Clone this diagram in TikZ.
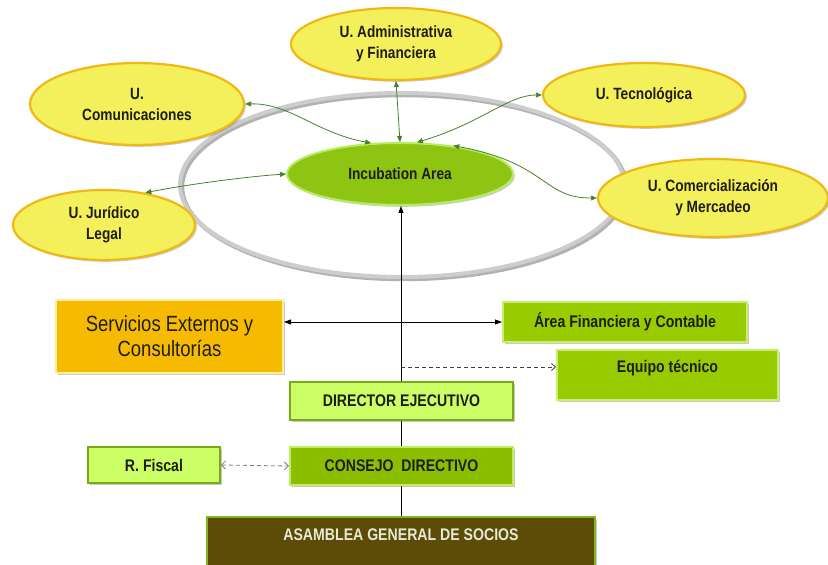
\documentclass[tikz,border=0pt]{standalone}
\usepackage{fontspec}
\setmainfont{Liberation Sans}[FakeStretch=0.84]
\usetikzlibrary{arrows.meta,shadows,shapes.geometric}

\definecolor{unitfill}{RGB}{244,240,92}
\definecolor{unitedge}{RGB}{240,184,20}
\definecolor{incfill}{RGB}{142,196,18}
\definecolor{incedge}{RGB}{184,236,96}
\definecolor{ringgray}{RGB}{205,205,205}
\definecolor{linkgreen}{RGB}{70,130,40}
\definecolor{servfill}{RGB}{246,186,0}
\definecolor{servedge}{RGB}{250,240,150}
\definecolor{leaffill}{RGB}{153,204,0}
\definecolor{leafedge}{RGB}{200,240,110}
\definecolor{palefill}{RGB}{204,255,102}
\definecolor{paleedge}{RGB}{120,170,20}
\definecolor{boardfill}{RGB}{140,190,0}
\definecolor{boardedge}{RGB}{190,236,100}
\definecolor{assemfill}{RGB}{92,76,8}
\definecolor{assemedge}{RGB}{130,180,30}
\definecolor{assemtext}{RGB}{232,232,214}
\definecolor{inktext}{RGB}{30,30,20}

\newcommand\unitfont{\bfseries\fontsize{16.3}{21}\selectfont}
\newcommand\boxfont{\bfseries\fontsize{16.8}{20}\selectfont}
\newcommand\servfont{\fontsize{22}{25}\selectfont}

\tikzset{
  softshadow/.style={drop shadow={shadow xshift=1.8pt,shadow yshift=-1.8pt,opacity=.35,fill=black!60}},
  unit/.style={ellipse,draw=unitedge,line width=2.2pt,fill=unitfill,inner sep=0pt,
    align=center,font=\unitfont,text=inktext,softshadow},
  orgbox/.style={rectangle,line width=2pt,inner sep=0pt,align=center,font=\boxfont,text=inktext,softshadow},
  link/.style={linkgreen,line width=0.8pt,{Triangle[length=6pt,width=5pt]}-{Triangle[length=6pt,width=5pt]}},
  solidarrow/.style={black,line width=0.8pt},
  dasharrow/.style={dashed,dash pattern=on 4pt off 3pt,line width=0.8pt}
}

\begin{document}
\begin{tikzpicture}[x=1pt,y=1pt]
\useasboundingbox (0,0) rectangle (828,565);

% outer ring around the incubation area
\draw[gray!60,line width=4.5pt] (404,378) ellipse [x radius=222,y radius=92];
\draw[ringgray,line width=4pt] (402,380) ellipse [x radius=222,y radius=92];

% trunk of the organisation, drawn under the boxes
\coordinate (trunk) at (401,48);
\coordinate (tap) at (401,198);

% central area and units
\node[ellipse,draw=incedge,line width=2pt,fill=incfill,minimum width=226pt,minimum height=62pt,
  inner sep=0pt,font=\unitfont,text=inktext,softshadow] (incub) at (400,391) {Incubation Area};
\node[unit,minimum width=210pt,minimum height=72pt] (admin) at (396,521)
  {U. Administrativa\\y Financiera};
\node[unit,minimum width=214pt,minimum height=82pt] (comu) at (137,461)
  {U.\\Comunicaciones};
\node[unit,minimum width=182pt,minimum height=70pt] (juri) at (104,340)
  {U. Jurídico\\Legal};
\node[unit,minimum width=202pt,minimum height=64pt] (tecno) at (644,470)
  {U. Tecnológica};
\node[unit,minimum width=230pt,minimum height=78pt] (comer) at (713,367)
  {U. Comercialización\\y Mercadeo};

% trunk line from the assembly up to the incubation area
\draw[solidarrow,-{Triangle[length=7pt,width=5pt]}] (trunk) -- (trunk |- incub.south);

% organisation boxes
\node[orgbox,draw=servedge,fill=servfill,minimum width=227pt,minimum height=73pt,font=\servfont]
  (serv) at (169.5,228.5) {Servicios Externos y\\Consultorías};
\node[orgbox,draw=leafedge,fill=leaffill,minimum width=244pt,minimum height=40pt]
  (finan) at (625,243) {Área Financiera y Contable};
\node[orgbox,draw=leafedge,fill=leaffill,minimum width=221pt,minimum height=50pt]
  (equipo) at (667.5,190) {};
\node[font=\boxfont,text=inktext] (equipotxt) at (667.5,197) {Equipo técnico};
\node[orgbox,draw=paleedge,fill=palefill,minimum width=223pt,minimum height=38pt]
  (director) at (401.5,164) {DIRECTOR EJECUTIVO};
\node[orgbox,draw=boardedge,fill=boardfill,minimum width=223pt,minimum height=38pt]
  (consejo) at (401.5,99) {CONSEJO\ \ DIRECTIVO};
\node[orgbox,draw=paleedge,fill=palefill,minimum width=132pt,minimum height=36pt]
  (fiscal) at (154,100) {R. Fiscal};
\node[orgbox,draw=assemedge,fill=assemfill,minimum width=388pt,minimum height=60pt]
  (asamblea) at (401,18) {};
\node[font=\boxfont,text=assemtext] (asambleatxt) at (401,30) {ASAMBLEA GENERAL DE SOCIOS};

% links between the units and the incubation area
\draw[link] (comu.east) .. controls (290,462) and (316,432) .. (incub.133);
\draw[link] (admin.south) -- (incub.north);
\draw[link] (tecno.west) .. controls (508,470) and (482,442) .. (incub.62);
\draw[link] (juri.38) .. controls (195,382) and (255,389) .. (incub.west);
\draw[link] (incub.28) .. controls (548,402) and (542,367) .. (comer.west);

% horizontal links of the executive level
\draw[solidarrow,{Triangle[length=7pt,width=5pt]}-{Triangle[length=7pt,width=5pt]}]
  (serv.east |- finan.west) -- (finan.west);
\draw[dasharrow,black!75,-{Straight Barb[length=4pt,width=7pt]}] (tap) -- (tap -| equipo.west);
\draw[dasharrow,gray,{Straight Barb[length=4pt,width=8pt]}-{Straight Barb[length=4pt,width=8pt]}]
  (fiscal.east) -- (consejo.west);
\end{tikzpicture}
\end{document}
